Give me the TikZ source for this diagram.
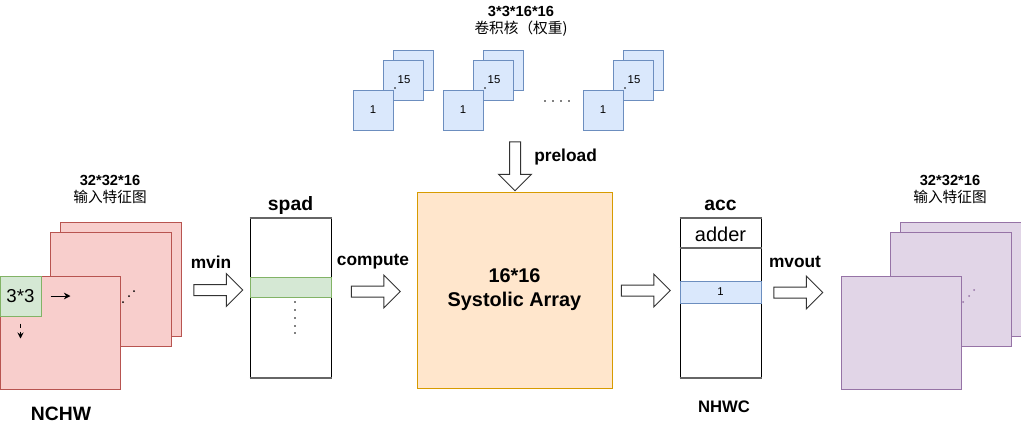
\documentclass[tikz,border=0pt]{standalone}
\usepackage{fontspec}
\setmainfont{Liberation Sans}
\newfontfamily\cjk{Noto Sans CJK SC}
\usetikzlibrary{arrows.meta}
\usetikzlibrary{shapes.arrows}

\definecolor{redfill}{HTML}{F8CECC}
\definecolor{redline}{HTML}{B85450}
\definecolor{grnfill}{HTML}{D5E8D4}
\definecolor{grnline}{HTML}{82B366}
\definecolor{blufill}{HTML}{DAE8FC}
\definecolor{bluline}{HTML}{6C8EBF}
\definecolor{orgfill}{HTML}{FFE6CC}
\definecolor{orgline}{HTML}{D79B00}
\definecolor{purfill}{HTML}{E1D5E7}
\definecolor{purline}{HTML}{9673A6}

\begin{document}
\begin{tikzpicture}[x=0.75pt,y=-0.75pt]
      \tikzset{fmapR/.style={draw=redline, fill=redfill, line width=0.75pt, inner sep=0pt,
        minimum width=90.75pt, minimum height=85.5pt}};
      \tikzset{fmapP/.style={fmapR, draw=purline, fill=purfill}};
      \tikzset{kern/.style={draw=bluline, fill=blufill, line width=0.75pt, inner sep=0pt,
        minimum width=30pt, minimum height=30pt, font=\fontsize{8.5}{10}\selectfont}};
      \tikzset{membox/.style={draw, line width=0.75pt, inner sep=0pt,
        minimum width=60.75pt, minimum height=119.25pt}};
      \tikzset{edge/.style={draw=black!60, line width=1.5pt}};
      \tikzset{blk/.style={single arrow, draw=black!80, fill=white, line width=0.75pt,
        single arrow head extend=8.25pt, inner xsep=0pt, inner ysep=3.75pt,
        text height=0pt, text depth=0pt, minimum height=36.75pt}};
      \tikzset{lbl/.style={font=\bfseries\fontsize{13}{15}\selectfont, inner sep=0pt}};
      \tikzset{big/.style={font=\bfseries\fontsize{14.5}{17}\selectfont, inner sep=0pt}};
      \tikzset{dims/.style={align=center, inner sep=0pt, font=\fontsize{11}{12.75}\selectfont}};
      \useasboundingbox (0,0) rectangle (1021,432);

      % 卷积核
      \node[dims] (kernT) at (521,21) {\textbf{3*3*16*16}\\{\cjk 卷积核（权重)}};
      \foreach \g/\k in {353/a,443/b,583/c}{
        \node[kern] (\k3) at (\g+60.5,70) {};
        \node[kern] (\k2) at (\g+50,80) {\hspace*{1.5pt}15};
        \node[kern] (\k1) at (\g+20,110) {1};
        \fill ([xshift=-6pt,yshift=-6pt]\k2.center) circle (0.7pt);
      }
      \foreach \x in {545,553,561,569} \fill (\x,101) circle (0.7pt);

      % 输入特征图
      \node[dims] (inT) at (110,189.5) {\textbf{32*32*16}\\{\cjk 输入特征图}};
      \node[fmapR] (in3) at (120.5,279) {};
      \node[fmapR] (in2) at (110.5,289) {};
      \node[fmapR, minimum width=90pt, minimum height=84.75pt] (in1) at (60,332.5) {};
      \node[draw=grnline, fill=grnfill, line width=0.75pt, inner sep=0pt, minimum width=30.75pt,
        minimum height=30pt, font=\fontsize{14}{16}\selectfont] (win) at (20.5,296) {3*3};
      \draw[line width=0.75pt, -{Stealth[length=5pt,width=5pt]}] ([xshift=6.75pt]win.east) -- ++(15pt,0);
      \draw[line width=0.75pt, dashed, -{Stealth[length=4.5pt,width=4.5pt]}] ([yshift=-5.25pt]win.south) -- ++(0,-11.25pt);
      \foreach \p in {(123,302),(129,296),(134,291)} \fill \p circle (0.75pt);
      \node[big] (inF) at (61,414) {NCHW};

      % spad
      \node[membox] (spad) at (290.5,297.5) {};
      \draw[edge] (spad.north west) -- (spad.north east);
      \draw[edge] (spad.south west) -- (spad.south east);
      \node[big] (spadT) at (290.5,205) {spad};
      \node[draw=grnline, fill=grnfill, line width=0.75pt, inner sep=0pt, minimum width=60.75pt,
        minimum height=15pt] (spadR) at (290.5,287) {};
      \foreach \y in {302,310,318,326,333} \fill (295,\y) circle (0.6pt);

      % 矢印
      \node[blk] (mvinA) at (215.5,290) {};
      \node[lbl] (mvinL) at (211,262) {mvin};
      \node[blk] (compA) at (373,291.5) {};
      \node[lbl] (compL) at (373,262) {compute};

      % Systolic Array
      \node[draw=orgline, fill=orgfill, line width=0.75pt, minimum width=146.25pt, minimum height=147pt,
        align=center, font=\bfseries\fontsize{14.9}{18}\selectfont] (sa) at (514.5,290) {16*16\\Systolic Array};
      \node[blk, rotate=-90] (preA) at (515,163.5) {};
      \node[lbl, anchor=west] (preL) at (534,157) {preload};
      \node[blk] (outA) at (643,290.5) {};

      % acc
      \node[membox] (acc) at (720.5,297.5) {};
      \draw[edge] (acc.north west) -- (acc.north east);
      \draw[edge] (acc.south west) -- (acc.south east);
      \node[big] (accT) at (720.5,205) {acc};
      \draw[edge] ([yshift=-22.5pt]acc.north west) -- ([yshift=-22.5pt]acc.north east);
      \node[font=\fontsize{15}{17}\selectfont, inner sep=0pt] (adder) at (720.5,234) {adder};
      \node[draw=bluline, fill=blufill, line width=0.75pt, inner sep=0pt, minimum width=60.75pt,
        minimum height=16.5pt, font=\fontsize{8.5}{10}\selectfont] (accR) at (720.5,292) {1};
      \node[font=\bfseries\fontsize{12.5}{15}\selectfont, inner sep=0pt] (accF) at (724,407) {NHWC};
      \node[blk] (mvoutA) at (795.5,292.5) {};
      \node[lbl] (mvoutL) at (795,262) {mvout};

      % 输出特征图
      \node[dims] (outT) at (950,189.5) {\textbf{32*32*16}\\{\cjk 输入特征图}};
      \node[fmapP] (out3) at (960.5,279) {};
      \node[fmapP] (out2) at (950.5,289) {};
      \node[fmapP, minimum width=90pt, minimum height=84.75pt] (out1) at (901,332.5) {};
      \foreach \p in {(963,302),(969,296),(974,290)} \fill[purline] \p circle (0.75pt);
\end{tikzpicture}
\end{document}
